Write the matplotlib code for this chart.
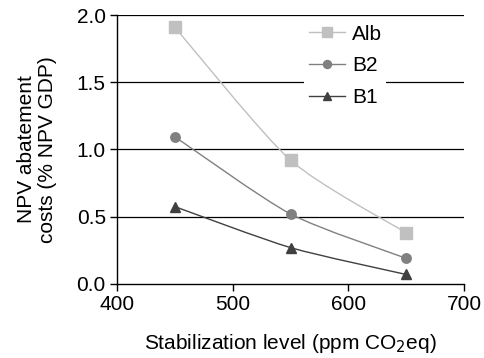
import matplotlib
matplotlib.use("Agg")
import matplotlib.pyplot as plt
import numpy as np
from matplotlib.path import Path
from matplotlib.patches import PathPatch
from matplotlib.lines import Line2D

plt.rcParams['font.family'] = ['Liberation Sans', 'DejaVu Sans']

levels = [450, 550, 650]
alb = [1.91, 0.92, 0.38]
b2 = [1.095, 0.52, 0.19]
b1 = [0.575, 0.27, 0.07]

series = [
    ("Alb", alb, "#c0c0c0", "s", 8),
    ("B2", b2, "#808080", "o", 6.8),
    ("B1", b1, "#404040", "^", 7.2),
]


def smooth_path(x, y, tension=0.12):
    # catmull-rom style bezier through the data points
    pts = np.column_stack([x, y]).astype(float)
    verts = [pts[0]]
    codes = [Path.MOVETO]
    n = len(pts)
    for i in range(n - 1):
        p0 = pts[i - 1] if i > 0 else pts[i]
        p1, p2 = pts[i], pts[i + 1]
        p3 = pts[i + 2] if i + 2 < n else pts[i + 1]
        c1 = p1 + (p2 - p0) * tension
        c2 = p2 - (p3 - p1) * tension
        verts += [c1, c2, p2]
        codes += [Path.CURVE4] * 3
    return Path(verts, codes)


fig = plt.figure(figsize=(4.85, 3.58), dpi=100)
ax = fig.add_axes([0.241, 0.207, 0.716, 0.751])

for lvl in [0.5, 1.0, 1.5, 2.0]:
    ax.axhline(lvl, color="black", lw=0.9, zorder=1)

handles = []
for name, vals, col, mk, ms in series:
    ax.add_patch(PathPatch(smooth_path(levels, vals), fill=False,
                           edgecolor=col, lw=1.0, zorder=2))
    ax.plot(levels, vals, ls="none", marker=mk, ms=ms, color=col, zorder=3)
    handles.append(Line2D([], [], color=col, lw=1.0, marker=mk, ms=ms * 0.85,
                          label=name))

ax.set_xlim(400, 700)
ax.set_ylim(0, 2.0)
ax.set_xticks([400, 500, 600, 700])
ax.set_yticks([0.0, 0.5, 1.0, 1.5, 2.0])
ax.set_yticklabels(["0.0", "0.5", "1.0", "1.5", "2.0"])
ax.tick_params(labelsize=15, length=5, width=1, direction="out", pad=3)
for s in ["top", "right"]:
    ax.spines[s].set_visible(False)
for s in ["left", "bottom"]:
    ax.spines[s].set_linewidth(1.0)

ax.set_xlabel("Stabilization level (ppm CO$_2$eq)", fontsize=15, labelpad=13)
ax.set_ylabel("NPV abatement\ncosts (% NPV GDP)", fontsize=15, labelpad=14,
              linespacing=1.12)

leg = ax.legend(handles=handles, loc="upper left",
                bbox_to_anchor=(0.54, 0.98), frameon=True, fontsize=15,
                handlelength=1.75, labelspacing=0.62, handletextpad=0.35,
                borderpad=0.2, borderaxespad=0)
leg.get_frame().set_facecolor("white")
leg.get_frame().set_edgecolor("none")
leg.get_frame().set_alpha(1)
leg.set_zorder(5)

fig.savefig("out.png", dpi=100)
